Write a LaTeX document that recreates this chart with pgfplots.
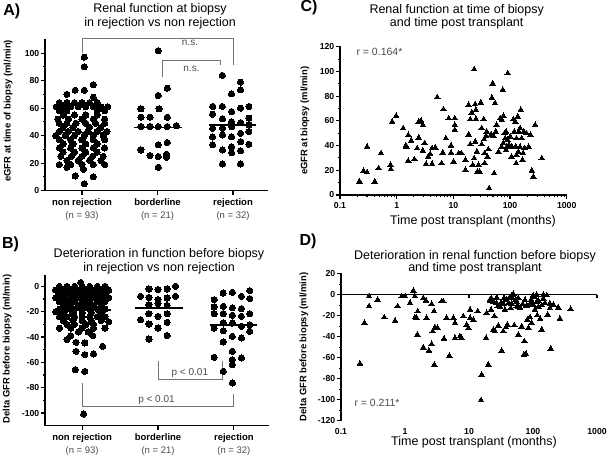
\documentclass[border=0pt]{standalone}
\usepackage{pgfplots}
\pgfplotsset{compat=1.18}
\usepackage{fontspec}
\setmainfont{Liberation Sans}
\definecolor{brk}{gray}{0.45}
\definecolor{txtg}{gray}{0.3}
\pgfplotsset{
  gp/.style={
    scale only axis, clip=false,
    axis x line*=bottom, axis y line*=left,
    axis line style={-, line width=1.5pt, line cap=rect},
    tick align=outside,
    major tick length=4pt, minor tick length=2.5pt,
    tick style={black, line width=1.1pt},
    /pgf/number format/assume math mode=true,
    yticklabel style={font=\bfseries\fontsize{8.7}{9}\selectfont, inner sep=1.5pt},
    xticklabel style={font=\bfseries\fontsize{8.7}{9}\selectfont},
    minor y tick num=1,
  },
  cat/.style={
    xmin=-0.49, xmax=2.45, xtick={0,1,2},
    xticklabels={{\textbf{non rejection}\\{\color{txtg}(n = 93)}},{\textbf{borderline}\\{\color{txtg}(n = 21)}},{\textbf{rejection}\\{\color{txtg}(n = 32)}}},
    xticklabel style={font=\fontsize{9.5}{13.3}\selectfont, align=center},
  },
  dots/.style={only marks, mark=*, mark size=3.1pt, mark options={fill=black, draw=black, line width=0pt}},
  tris/.style={only marks, mark=triangle*, mark size=3.2pt, mark options={fill=black, draw=black, line width=0pt}},
  meanl/.style={black, line width=1.6pt, no marks},
}
\begin{document}
\begin{tikzpicture}
\path[use as bounding box] (0,0) rectangle (608pt,-457pt);

% ---------------- A ----------------
\begin{axis}[gp, cat, at={(45pt,-190.7pt)}, anchor=south west, width=222pt, height=151.4pt,
  ymin=0, ymax=110, ytick={0,20,...,100}]
\addplot[dots] coordinates {
(0.03,97)(0.03,90)(0.15,77)(-0.09,73)(0.03,73)(0.15,68)(-0.2,70)
(-0.3,64)(-0.2,64)(-0.1,64)(0,64)(0.1,64)(0.2,64)
(-0.34,61)(-0.25,61)(-0.15,61)(-0.05,61)(0.05,61)(0.15,61)(0.25,61)(0.34,61)
(-0.3,58)(-0.2,58)(0.2,58)(0.3,58)
(-0.25,55)(-0.1,55)(0.05,55)(0.2,55)
(-0.32,52)(-0.18,52)(0,52)(0.15,52)(0.3,52)
(-0.3,49)(-0.2,49)(-0.08,49)(0.05,49)(0.18,49)(0.3,49)
(-0.25,46)(-0.12,46)(0.1,46)(0.25,46)
(-0.3,43)(-0.18,43)(-0.05,43)(0.08,43)(0.2,43)(0.33,43)
(-0.35,40)(-0.22,40)(-0.1,40)(0.03,40)(0.15,40)(0.28,40)
(-0.3,37)(-0.15,37)(0,37)(0.15,37)(0.3,37)
(-0.25,34)(-0.12,34)(0.05,34)(0.2,34)
(-0.3,31)(-0.15,31)(0,31)(0.15,31)(0.3,31)
(-0.25,28)(-0.1,28)(0.05,28)(0.2,28)
(-0.28,25)(-0.14,25)(0,25)(0.14,25)(0.28,25)
(-0.2,22)(-0.05,22)(0.1,22)(0.25,22)
(-0.3,19)(-0.15,19)(0,19)(0.15,19)(0.3,19)
(0.02,15.5)(-0.2,17)
(-0.09,10.7)(0.15,10.2)
(0.03,5)
};
\addplot[dots] coordinates {
(1.01,101.7)(1.13,74.5)(1.01,69.2)(0.78,59.5)(1.02,59.5)(0.78,53.4)(0.9,53.4)(1.13,53.4)
(0.78,46.6)(0.9,46.6)(1.01,46.6)(1.13,46.6)(1.25,47.3)(1.13,35)(1.01,33.3)(0.78,29.6)
(0.9,25.5)(1.01,24.8)(1.12,24.3)(1.12,26.5)(1.01,17)
};
\addplot[dots] coordinates {
(1.86,83.7)(2.1,78.9)(1.98,70.4)(2.1,73.3)(1.73,61.2)(1.86,61.2)(2.1,60)(2.21,61.2)
(1.98,57.5)(1.73,55.6)(1.86,52.2)(2.21,52.7)(1.98,50.2)(2.1,49.5)(1.73,45.4)(1.86,45.4)
(1.98,46.6)(2.1,41.7)(1.86,40.5)(2.21,43)(1.98,39.3)(1.73,33.3)(2.21,33.7)(1.86,29.6)
(2.1,29.1)(1.98,27.7)(1.86,19.4)(2.1,19.4)(2.1,35.7)(1.98,32)(1.73,39)(2.21,47.8)
};
\addplot[meanl] coordinates {(-0.31,42.2)(0.35,42.2)};
\addplot[meanl] coordinates {(0.69,45.9)(1.33,45.9)};
\addplot[meanl] coordinates {(1.68,47.8)(2.31,47.8)};
\draw[brk, line width=0.9pt] (axis cs:0,100) -- (axis cs:0,110.3) -- (axis cs:2,110.3) -- (axis cs:2,91.5);
\draw[brk, line width=0.9pt] (axis cs:1.07,82.5) -- (axis cs:1.07,94.6) -- (axis cs:1.84,94.6) -- (axis cs:1.84,91);
\node[txtg, font=\fontsize{10}{10}\selectfont] at (axis cs:1.43,107.2) {n.s.};
\node[txtg, font=\fontsize{10}{10}\selectfont] at (axis cs:1.45,88.8) {n.s.};
\end{axis}

% ---------------- B ----------------
\begin{axis}[gp, cat, at={(45pt,-425.7pt)}, anchor=south west, width=223pt, height=149.5pt,
  ymin=-110, ymax=8, ytick={-100,-80,...,0}]
\addplot[dots] coordinates {
(-0.02,3)
(-0.3,0)(-0.2,0)(-0.1,0)(0,0)(0.1,0)(0.2,0)(0.3,0)
(-0.35,-3)(-0.25,-3)(-0.15,-3)(-0.05,-3)(0.05,-3)(0.15,-3)(0.25,-3)(0.35,-3)
(-0.3,-6)(-0.2,-6)(-0.1,-6)(0,-6)(0.1,-6)(0.2,-6)(0.3,-6)
(-0.35,-9)(-0.25,-9)(-0.15,-9)(-0.05,-9)(0.05,-9)(0.15,-9)(0.25,-9)(0.35,-9)
(-0.3,-12)(-0.2,-12)(-0.1,-12)(0,-12)(0.1,-12)(0.2,-12)(0.3,-12)
(-0.25,-15)(-0.15,-15)(-0.05,-15)(0.05,-15)(0.15,-15)(0.25,-15)
(-0.3,-18)(-0.2,-18)(-0.1,-18)(0,-18)(0.1,-18)(0.2,-18)(0.3,-18)
(-0.35,-20)
(-0.25,-21)(-0.12,-21)(0,-21)(0.12,-21)(0.25,-21)
(-0.3,-24)(-0.2,-24)(-0.1,-24)(0,-24)(0.1,-24)(0.2,-24)(0.3,-24)
(-0.25,-27)(-0.12,-27)(0,-27)(0.12,-27)(0.25,-27)(0.35,-28)
(-0.2,-30)(-0.1,-30)(0.05,-30)(0.15,-30)
(-0.3,-33)(-0.15,-33)(0,-33)(0.15,-33)(0.3,-33)
(-0.05,-36)(0.08,-36)
(-0.15,-39)(0.14,-38.9)
(-0.2,-42)
(-0.08,-44.2)(0.035,-44.7)
(0.27,-47.4)
(-0.08,-51.3)
(0.035,-53.9)(0.15,-53.4)
(-0.09,-65.8)(0.035,-67.1)
(0.02,-100.8)
};
\addplot[dots] coordinates {
(1.23,0)(0.88,-2.1)(1.0,-2.6)(1.12,-2.1)(0.77,-7.9)(0.88,-8.7)(1.23,-7.9)(1.0,-10.5)
(1.12,-9.2)(1.0,-13.7)(0.88,-21.6)(1.12,-21.6)(0.77,-26.3)(1.0,-23.7)(0.88,-29.7)(1.12,-28.4)
(1.0,-32.9)(0.88,-41.6)(1.12,-38.9)(1.12,-15)(0.88,-14.5)
};
\addplot[dots] coordinates {
(2.21,-3.4)(1.98,-4.7)(1.86,-5.3)(2.1,-7.9)(1.74,-10.5)(2.21,-9.7)(1.86,-15.8)(1.98,-17)
(2.1,-17.6)(1.74,-16.3)(1.86,-21.6)(1.98,-22.9)(2.21,-21.6)(1.74,-21.6)(2.1,-23.7)(1.86,-28.9)
(1.98,-29)(2.21,-30.3)(2.1,-31.6)(1.74,-32.9)(1.86,-35)(2.21,-35.5)(1.98,-39.5)(2.1,-40.8)
(1.86,-43.9)(1.98,-51.3)(1.74,-56)(1.98,-57.9)(2.1,-56.6)(1.98,-61.8)(1.86,-67.1)(1.98,-76.3)
};
\addplot[meanl] coordinates {(-0.31,-18.9)(0.38,-18.9)};
\addplot[meanl] coordinates {(0.7,-17.1)(1.33,-17.1)};
\addplot[meanl] coordinates {(1.68,-30.3)(2.31,-30.3)};
\draw[brk, line width=0.9pt] (axis cs:1,-59.2) -- (axis cs:1,-73.2) -- (axis cs:1.85,-73.2) -- (axis cs:1.85,-59.2);
\draw[brk, line width=0.9pt] (axis cs:0,-76.3) -- (axis cs:0,-94.7) -- (axis cs:1.99,-94.7) -- (axis cs:1.99,-84.7);
\node[txtg, font=\fontsize{10}{10}\selectfont] at (axis cs:1.42,-68.8) {p < 0.01};
\node[txtg, font=\fontsize{10}{10}\selectfont] at (axis cs:0.98,-90) {p < 0.01};
\end{axis}

% ---------------- C ----------------
\begin{axis}[gp, at={(340pt,-195pt)}, anchor=south west, width=226.7pt, height=148.3pt,
  xmode=log, xmin=0.1, xmax=1000, ymin=0, ymax=120, ytick={0,20,...,120},
  xtick={0.1,1,10,100,1000}, xticklabels={0.1,1,10,100,1000}, minor xtick={}]
\addplot[tris] coordinates {
(0.22,11)(0.26,19.4)(0.30,39)(0.30,18.3)(0.41,10.8)(0.48,21.6)(0.53,33.7)(0.78,24.3)(0.79,20.8)
(0.83,59.3)(0.98,64)(1.3,53.9)(1.45,40)(1.5,39)(1.6,48.5)(1.6,27.5)(1.8,44)(2.05,28.9)(2.3,37.8)
(2.45,59.3)(2.45,46.4)(2.7,60)(2.9,56.6)(2.9,35.9)(3.1,41.8)(3.3,25)(3.6,31)(3.9,33.2)(4.2,37.8)
(4.2,25.1)(4.8,38.3)(5.2,79)(6.2,25.6)(6.5,34.2)(6.7,69.3)(7.4,45.8)(8.3,62)(9.1,40)(9.1,34.2)
(10.1,27)(10.6,62)(10.6,56.6)(10.6,52.6)(12.4,33.7)(13.9,33.7)(16.3,20.2)(16.3,28.3)(18.6,72.8)
(18.6,49)(19.9,41)(19.9,61.2)(21.1,66.6)(22,24.3)(23.3,29.7)(23.3,101.7)(24.3,73.4)(24.3,43.1)
(25,61.5)(25,68.8)(26,35)(26.5,18.9)(27.7,24.3)(29,18.9)(30.5,74.7)(31.6,41)(31.6,54)(34.3,61.2)
(35,45)(35.5,25.6)(35.5,33.7)(37.7,47.7)(38.8,51.2)(40,31)(41.5,37)(42.7,5.4)(46.5,49)(47.8,78.7)
(49.5,90.3)(51,47.7)(52.3,17.5)(54.5,74.2)(56,51.2)(58,56.6)(62.5,35)(67,62)(71.5,60.7)(74.5,85)
(76.5,63.9)(80,49.9)(82,45.8)(85,36.4)(88,39.1)(91,98.4)(91,44.5)(95.6,40.5)(101,47.2)(108,39.1)
(115,61.2)(119,51.2)(124,59.3)(126,39.1)(128,25.6)(130,45.8)(130,32.4)(137,63.4)(143,51.2)
(150,53.9)(155,68.8)(160,45.8)(165,28.3)(175,51.2)(180,37.8)(195,49.9)(213,39.1)(230,48.5)
(243,19.7)(258,14.8)(278,56.6)(363,29.7)
(71,39)(76,41.8)(85,51.2)(106,31)(140,35)(150,39)(170,33.7)
};
\end{axis}

% ---------------- D ----------------
\begin{axis}[gp, at={(341pt,-420.7pt)}, anchor=south west, width=256pt, height=147pt,
  xmode=log, xmin=0.1, xmax=1000, ymin=-120, ymax=20, ytick={-120,-100,...,20},
  xtick={0.1,1,10,100,1000}, xticklabels={0.1,1,10,100,1000}, minor xtick={},
  x axis line style={draw=none}, xtick style={draw=none}]
\addplot[tris] coordinates {
(0.198,-65.7)(0.232,-27)(0.274,-1.6)(0.274,-11.1)(0.374,-4.8)(0.475,-21.6)(0.698,-24.8)(0.767,-11.1)
(0.887,-1.6)(1.0,-1.6)(1.2,-7.9)(1.35,3.8)(1.43,-1.6)(1.43,-21.6)(1.52,-22.2)(1.58,-15.9)(1.56,-38.1)
(1.93,-3.2)(2.13,-5.7)(2.18,-22.2)(1.93,-50.2)(2.37,-53.3)(2.61,-47)(2.61,-8.9)(2.84,-15.9)(2.71,-34.9)
(2.94,-31.1)(3.24,-31.7)(2.87,-66.7)(3.97,-6.3)(3.74,-6.3)(4.07,-41.9)(4.48,-22.2)(4.93,-58.1)
(5.69,-22.2)(6.04,-27)(6.04,-41.3)(7.23,-39.7)(7.68,-41.3)(8.15,-20.6)(9.2,-28.6)(9.77,-31.7)
(10.4,-14.3)(10.4,-22.2)(11.7,-23.8)(13.7,-15.9)(15.8,-76.2)(15.4,-100.6)(18.5,-41.3)(18.9,-17.5)
(20.0,-66.7)(21.3,-5.7)(22.1,-14.3)(22.6,-3.8)(24,-33.3)(24.9,-20.6)(25.5,-34.9)(27,-7.9)(28.1,-11.1)
(28.7,-29.5)(30.5,-11.1)(31.6,-7.9)(32.4,-53.3)(34.4,-34.9)(35.2,-3.2)(36.5,-14.3)(37.8,-31.1)
(39.7,-28.6)(41.2,-7.9)(42.7,-3.2)(44.8,-12.7)(47.5,-3.2)(49.3,0.6)(51.1,-29.2)(54.2,-4.8)(55.6,-11.1)
(59,-38.1)(59,-3.2)(62.7,-12.1)(66.5,-30.2)(69,-8.9)(72.3,-57.1)(73.3,-44.4)(77.8,-56.5)(79.6,-10.5)
(81.5,-23.8)(84.6,-31.7)(89.8,-21.6)(93.1,-4.8)(95.3,-27)(101,-9.5)(105,-2.5)(107,-14.3)(114,0)
(117,-19.7)(121,-5.7)(129,-22.9)(137,-33.3)(145,0)(154,-7.9)(169,-19)(184,-12.7)(189,-51.4)
(208,-9.5)(249,-12.1)(264,-22.9)(388,-13.7)
(21.3,-4.6)(24,-6.8)(27.1,-2.7)(34.4,-8.4)(46.4,-0.5)(55.6,-6.8)(75,-5.2)(101,-0.5)(114,-6.8)
(137,-10)(164,-0.5)(145,-3.7)(90,-8.4)(38.8,-4.6)(59,-11.6)(30.5,-11.6)(46.4,-8.4)(79.6,-10)
(121,-11.6)(184,-8.4)
};
\draw[black, line width=1.5pt] (axis cs:0.1,0) -- (axis cs:1000,0);
\draw[black, line width=1.1pt] (axis cs:1,0) -- (axis cs:1,-3.2);
\draw[black, line width=1.1pt] (axis cs:10,0) -- (axis cs:10,-3.2);
\draw[black, line width=1.1pt] (axis cs:100,0) -- (axis cs:100,-3.2);
\draw[black, line width=1.1pt] (axis cs:1000,0) -- (axis cs:1000,-3.2);
\end{axis}

% ---------------- texts ----------------
\node[font=\bfseries\fontsize{16}{16}\selectfont] at (11.7pt,-11.5pt) {A)};
\node[font=\bfseries\fontsize{16}{16}\selectfont] at (10.5pt,-244.7pt) {B)};
\node[font=\bfseries\fontsize{16}{16}\selectfont] at (309pt,-7pt) {C)};
\node[font=\bfseries\fontsize{16}{16}\selectfont] at (308pt,-241.5pt) {D)};

\node[align=center, font=\fontsize{12.5}{14}\selectfont] at (160pt,-16.3pt) {Renal function at biopsy\\in rejection vs non rejection};
\node[align=center, font=\fontsize{12.5}{14}\selectfont] at (159pt,-261.7pt) {Deterioration in function before biopsy\\in rejection vs non rejection};
\node[align=center, font=\fontsize{12.5}{13.3}\selectfont] at (456.7pt,-16.7pt) {Renal function at time of biopsy\\and time post transplant};
\node[align=center, font=\fontsize{12.5}{12.5}\selectfont] at (475pt,-262.5pt) {Deterioration in renal function before biopsy\\and time post transplant};

\node[rotate=90, font=\bfseries\fontsize{9.4}{10}\selectfont] at (8.3pt,-110.8pt) {eGFR at time of biopsy (ml/min)};
\node[rotate=90, font=\bfseries\fontsize{9.4}{10}\selectfont] at (7.3pt,-348.8pt) {Delta GFR before biopsy (ml/min)};
\node[rotate=90, font=\bfseries\fontsize{9.4}{10}\selectfont] at (305pt,-120.7pt) {eGFR at biopsy (ml/min)};
\node[rotate=90, font=\bfseries\fontsize{9.4}{10}\selectfont] at (304pt,-347pt) {Delta GFR before biopsy (ml/min)};

\node[font=\fontsize{12.5}{13}\selectfont] at (473pt,-221.7pt) {Time post transplant (months)};
\node[font=\fontsize{12.5}{13}\selectfont] at (474pt,-442.5pt) {Time post transplant (months)};

\node[anchor=west, txtg, font=\fontsize{10.5}{11}\selectfont] at (353pt,-51.7pt) {r = 0.164*};
\node[anchor=west, txtg, font=\fontsize{10.5}{11}\selectfont] at (351pt,-403.3pt) {r = 0.211*};
\end{tikzpicture}
\end{document}
